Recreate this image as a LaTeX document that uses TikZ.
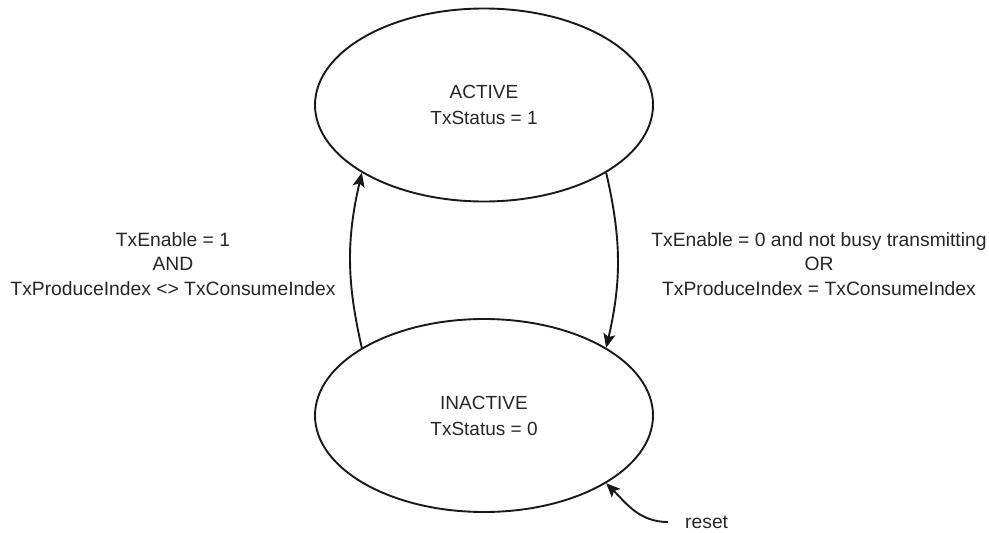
\documentclass[tikz,border=0pt]{standalone}
\usepackage{fontspec}
\setmainfont{Liberation Sans}
\usetikzlibrary{shapes.geometric,arrows.meta}
\tikzset{
  state/.style={draw=black!90, line width=1.9pt, ellipse, minimum width=338pt,
    minimum height=193pt, inner sep=0pt, align=center, text=black!85,
    font=\fontsize{19}{26}\selectfont},
  lbl/.style={align=center, inner sep=0pt, text=black!85,
    font=\fontsize{19.3}{24.5}\selectfont},
  arr/.style={draw=black!90, line width=1.9pt,
    -{Stealth[length=14pt,width=12pt,inset=3pt]}}
}
\begin{document}
\begin{tikzpicture}[x=1pt,y=-1pt]
      \useasboundingbox (0,0) rectangle (989,533);
      \draw
        (484,105) node[state] (active){ACTIVE\\TxStatus = 1}
        (484,415.5) node[state] (inactive){INACTIVE\\TxStatus = 0};
      \node[lbl] (up) at (173,264)
        {TxEnable = 1\\AND\\TxProduceIndex <> TxConsumeIndex};
      \node[lbl] (down) at (819,264)
        {TxEnable = 0 and not busy transmitting\\OR\\TxProduceIndex = TxConsumeIndex};
      \node[lbl, anchor=west] (reset) at (685,522) {reset};
      \begin{scope}[arr]
        \draw (inactive.151) to[bend left=13] (active.209);
        \draw (active.331) to[bend left=13] (inactive.29);
        \draw ([xshift=-17pt]reset.west) to[out=180,in=-45] (inactive.331);
      \end{scope}
    \end{tikzpicture}
\end{document}
